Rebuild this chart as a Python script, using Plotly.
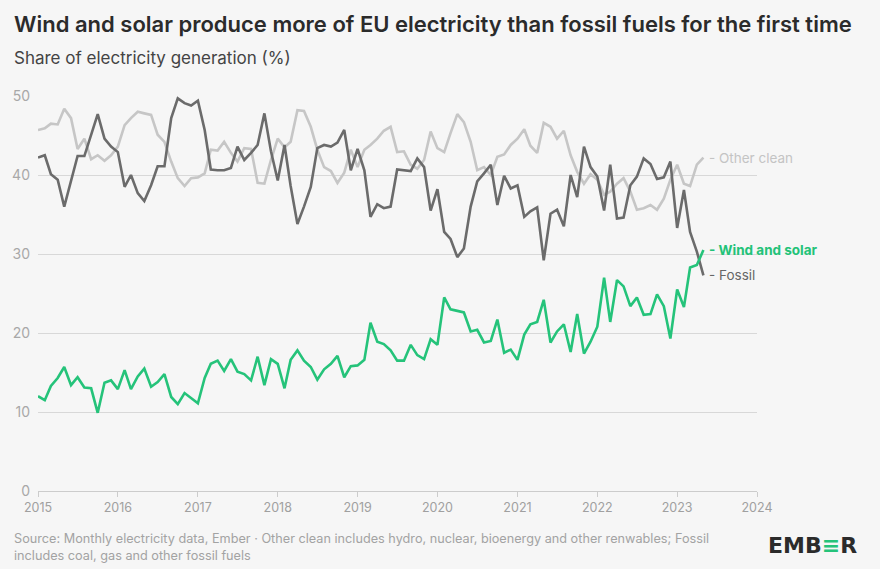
import plotly.graph_objects as go
import pandas as pd

months = pd.date_range("2015-01-01", "2023-05-01", freq="MS")

fossil = [42.2, 42.5, 40.1, 39.4, 36.0, 39.2, 42.4, 42.4, 45.1, 47.7, 44.6, 43.6,
          42.9, 38.5, 40.0, 37.7, 36.7, 38.7, 41.1, 41.1, 47.2, 49.7, 49.1, 48.8,
          49.4, 45.7, 40.7, 40.6, 40.6, 40.9, 43.6, 41.9, 42.8, 43.8, 47.8, 43.0,
          39.3, 43.8, 38.6, 33.8, 36.0, 38.5, 43.4, 43.8, 43.6, 44.1, 45.7, 40.6,
          43.3, 40.6, 34.7, 36.3, 35.8, 36.0, 40.7, 40.6, 40.5, 42.1, 41.0, 35.5,
          38.2, 32.8, 31.9, 29.6, 30.7, 36.0, 39.2, 40.2, 41.3, 36.2, 39.9, 38.3,
          38.7, 34.7, 35.4, 35.9, 29.2, 35.1, 35.6, 33.5, 40.0, 37.2, 43.6, 41.0,
          39.8, 35.5, 41.3, 34.5, 34.6, 38.7, 39.8, 42.1, 41.4, 39.5, 39.7, 41.7,
          33.3, 38.1, 32.8, 30.3, 27.3]

other_clean = [45.7, 45.9, 46.5, 46.4, 48.4, 47.2, 43.3, 44.6, 42.0, 42.5, 41.8, 42.5,
               43.6, 46.3, 47.2, 48.0, 47.8, 47.6, 45.1, 44.2, 41.7, 39.6, 38.6, 39.6,
               39.7, 40.2, 43.2, 43.1, 44.2, 42.8, 41.7, 43.4, 43.3, 39.0, 38.9, 41.9,
               44.6, 43.5, 44.2, 48.2, 48.1, 46.1, 43.2, 41.0, 40.5, 39.0, 40.3, 43.2,
               41.0, 43.2, 43.8, 44.6, 45.6, 46.1, 42.9, 43.0, 41.3, 40.8, 41.9, 45.5,
               43.4, 42.9, 45.3, 47.7, 46.7, 44.2, 40.6, 41.0, 40.0, 42.3, 42.6, 43.8,
               44.6, 45.8, 43.7, 42.8, 46.6, 46.1, 44.6, 45.6, 42.5, 40.4, 38.9, 40.1,
               39.4, 37.5, 37.9, 38.9, 39.6, 37.9, 35.6, 35.8, 36.2, 35.6, 37.0, 39.4,
               41.3, 38.9, 38.6, 41.3, 42.2]

wind_solar = [12.0, 11.5, 13.3, 14.3, 15.7, 13.4, 14.4, 13.1, 13.0, 9.9, 13.7, 14.0,
              12.9, 15.3, 12.9, 14.5, 15.5, 13.2, 13.8, 14.8, 11.9, 11.0, 12.4, 11.7,
              11.1, 14.3, 16.1, 16.5, 15.2, 16.7, 15.1, 14.8, 14.0, 17.0, 13.4, 16.7,
              16.1, 13.0, 16.6, 17.8, 16.5, 15.7, 14.1, 15.4, 16.1, 17.1, 14.4, 15.8,
              15.9, 16.6, 21.3, 18.9, 18.6, 17.8, 16.5, 16.5, 18.5, 17.2, 16.7, 19.2,
              18.5, 24.5, 23.0, 22.8, 22.6, 20.2, 20.4, 18.8, 19.0, 21.7, 17.5, 17.9,
              16.6, 19.8, 21.1, 21.4, 24.2, 18.8, 20.2, 21.1, 17.6, 22.4, 17.4, 18.9,
              20.8, 27.0, 21.4, 26.7, 25.9, 23.4, 24.5, 22.3, 22.4, 24.9, 23.4, 19.3,
              25.5, 23.3, 28.3, 28.6, 30.5]

year_ticks = [f"{y}-01-01" for y in range(2015, 2025)]
year_labels = [str(y) for y in range(2015, 2025)]
y_ticks = [0, 10, 20, 30, 40, 50]

series = [
    ("Other clean", other_clean, "#c6c6c6", "#c4c4c4", False),
    ("Fossil", fossil, "#6b6b6b", "#666666", False),
    ("Wind and solar", wind_solar, "#25c37a", "#22c278", True),
]

FONT = "Inter, Roboto, sans-serif"
fig = go.Figure()
for name, vals, col, lcol, bold in series:
    fig.add_trace(go.Scatter(x=months, y=vals, mode="lines", name=name,
                             line=dict(color=col, width=2.6), showlegend=False))
for name, vals, col, lcol, bold in series:
    txt = f"<b>- {name}</b>" if bold else f"- {name}"
    fig.add_annotation(x=months[-1], y=vals[-1], xref="x", yref="y", text=txt,
                       showarrow=False, xanchor="left", yanchor="middle", xshift=4,
                       font=dict(family=FONT, size=13.5, color=lcol))

W, H = 880, 569
L, R, T, B = 35, 123, 96, 78
ph = H - T - B
pw = W - L - R

def px(xp):
    return (xp - L) / pw

def py(yp):
    return (H - B - yp) / ph

fig.add_annotation(xref="paper", yref="paper", x=px(9), y=py(24), xanchor="left", yanchor="middle",
                   text="Wind and solar produce more of EU electricity than fossil fuels for the first time",
                   showarrow=False, font=dict(family=FONT, size=22, color="#2b2b2b", weight=600))
fig.add_annotation(xref="paper", yref="paper", x=px(9), y=py(58), xanchor="left", yanchor="middle",
                   text="Share of electricity generation (%)",
                   showarrow=False, font=dict(family=FONT, size=17, color="#444444"))
fig.add_annotation(xref="paper", yref="paper", x=px(9), y=py(547), xanchor="left", yanchor="middle",
                   align="left",
                   text="Source: Monthly electricity data, Ember · Other clean includes hydro, nuclear, bioenergy and other renwables; Fossil<br>includes coal, gas and other fossil fuels",
                   showarrow=False, font=dict(family=FONT, size=12.7, color="#a3a3a3"))
fig.add_annotation(xref="paper", yref="paper", x=px(859), y=py(545), xanchor="right", yanchor="middle",
                   text="<b>EMB<span style='color:#25c37a'>≡</span>R</b>",
                   showarrow=False, font=dict(family="DejaVu Sans", size=22, color="#2b2b2b"))

fig.update_layout(
    width=W, height=H,
    margin=dict(l=L, r=R, t=T, b=B, pad=0),
    paper_bgcolor="#f6f6f6", plot_bgcolor="#f6f6f6",
    font=dict(family=FONT, color="#a0a0a0", size=12),
    xaxis=dict(range=["2015-01-01", "2024-01-01"], tickvals=year_ticks, ticktext=year_labels,
               showgrid=False, zeroline=False, showline=True, linecolor="#cccccc", linewidth=1,
               ticks="outside", ticklen=5, tickcolor="#cccccc",
               tickfont=dict(family=FONT, size=12.5, color="#a0a0a0")),
    yaxis=dict(range=[0, 50], tickvals=y_ticks, showgrid=True, gridcolor="#d8d8d8", gridwidth=1,
               zeroline=False, showline=False, ticks="", ticklabelstandoff=7,
               tickfont=dict(family=FONT, size=14, color="#a8a8a8")),
)

fig.write_html("out.html", config={"displayModeBar": False},
               post_script="document.body.style.margin='0';document.body.style.padding='0';"
                           "document.body.style.background='#f6f6f6';")
